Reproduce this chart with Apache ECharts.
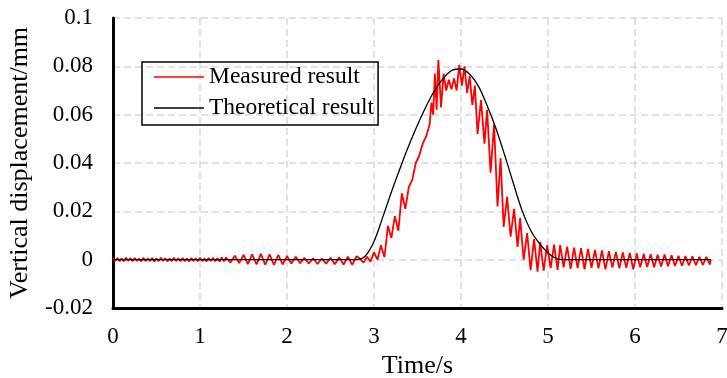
<!DOCTYPE html>
<html>

<head>
    <meta charset="utf-8" />
    <title>Vertical displacement</title>
    <script src="https://cdn.jsdelivr.net/npm/echarts@6/dist/echarts.min.js"></script>
</head>

<body style="margin:0">
    <style>
        #main {
            width: 727px;
            height: 378px;
        }
    </style>
    <div id="main"></div>
    <script type="text/javascript">
        // measured signal, [time s, displacement mm]
        var measuredStill = [
            [0, 0.0006], [0.025, -0.0005], [0.05, 0.0007], [0.075, -0.0006], [0.1, 0.0005], [0.125, -0.0007],
            [0.15, 0.0008], [0.175, -0.0004], [0.2, 0.0006], [0.225, -0.0006], [0.25, 0.0007], [0.275, -0.0005],
            [0.3, 0.0004], [0.325, -0.0007], [0.35, 0.0008], [0.375, -0.0006], [0.4, 0.0006], [0.425, -0.0005],
            [0.45, 0.0007], [0.475, -0.0008], [0.5, 0.0005], [0.525, -0.0006], [0.55, 0.0008], [0.575, -0.0005],
            [0.6, 0.0006], [0.625, -0.0007], [0.65, 0.0005], [0.675, -0.0006], [0.7, 0.0008], [0.725, -0.0005],
            [0.75, 0.0006], [0.775, -0.0007], [0.8, 0.0007], [0.825, -0.0006], [0.85, 0.0005], [0.875, -0.0008],
            [0.9, 0.0007], [0.925, -0.0005], [0.95, 0.0006], [0.975, -0.0007], [1.0, 0.0008], [1.025, -0.0006],
            [1.05, 0.0005], [1.075, -0.0007], [1.1, 0.0007], [1.125, -0.0006], [1.15, 0.0008], [1.175, -0.0007],
            [1.2, 0.0006], [1.225, -0.0008], [1.25, 0.0009], [1.275, -0.0007]
        ];
        var measuredFlat = [
            [1.3, 0.0009], [1.35, -0.0012], [1.4, 0.0016], [1.45, -0.0014],
            [1.5, 0.0020], [1.55, -0.0018], [1.6, 0.0022], [1.65, -0.0020], [1.7, 0.0024], [1.75, -0.0021],
            [1.8, 0.0022], [1.85, -0.0022], [1.9, 0.0020], [1.95, -0.0020], [2.0, 0.0015], [2.05, -0.0016],
            [2.1, 0.0012], [2.15, -0.0015], [2.2, 0.0008], [2.25, -0.0016], [2.3, 0.0006], [2.35, -0.0018],
            [2.4, 0.0005], [2.45, -0.0017], [2.5, 0.0008], [2.55, -0.0019], [2.6, 0.0010], [2.65, -0.0020],
            [2.7, 0.0012], [2.75, -0.0021], [2.8, 0.0014]
        ];
        var measuredRise = [
            [2.84, 0.0003], [2.88, -0.0012], [2.92, 0.0012], [2.96, -0.0008], [3.00, 0.0030], [3.04, 0.0000],
            [3.08, 0.0060], [3.12, 0.0010], [3.16, 0.0140], [3.20, 0.0090], [3.24, 0.0180], [3.28, 0.0120],
            [3.32, 0.0275], [3.36, 0.0210], [3.40, 0.0300], [3.44, 0.0330], [3.48, 0.0400], [3.52, 0.0430],
            [3.56, 0.0480], [3.60, 0.0510], [3.64, 0.0560], [3.66, 0.0650], [3.68, 0.0600], [3.70, 0.0770],
            [3.72, 0.0620], [3.74, 0.0826], [3.77, 0.0630], [3.80, 0.0770], [3.83, 0.0700], [3.86, 0.0745],
            [3.89, 0.0705], [3.92, 0.0750], [3.95, 0.0700], [3.98, 0.0805], [4.01, 0.0720], [4.04, 0.0800],
            [4.07, 0.0690], [4.10, 0.0760], [4.13, 0.0640], [4.16, 0.0720]
        ];
        var measuredFall = [
            [4.19, 0.0520], [4.23, 0.0660], [4.27, 0.0480], [4.30, 0.0620], [4.34, 0.0360], [4.38, 0.0560],
            [4.42, 0.0220], [4.455, 0.0420], [4.49, 0.0136], [4.53, 0.0260], [4.57, 0.0095], [4.61, 0.0210],
            [4.65, 0.0053], [4.68, 0.0172], [4.72, 0.0000], [4.76, 0.0110], [4.80, -0.0043], [4.84, 0.0085],
            [4.88, -0.0050], [4.91, 0.0074], [4.95, -0.0045], [4.99, 0.0060], [5.03, -0.0035], [5.07, 0.0062],
            [5.11, -0.0042], [5.14, 0.0060], [5.18, -0.0032], [5.22, 0.0054]
        ];
        var measuredTail = [
            [5.26, -0.0038], [5.30, 0.0050], [5.34, -0.0035], [5.38, 0.0048], [5.42, -0.0040], [5.46, 0.0045],
            [5.50, -0.0034], [5.54, 0.0040], [5.58, -0.0036], [5.62, 0.0038], [5.66, -0.0040], [5.70, 0.0035],
            [5.74, -0.0033], [5.78, 0.0032], [5.82, -0.0036], [5.86, 0.0030], [5.90, -0.0034], [5.94, 0.0028],
            [5.98, -0.0040], [6.02, 0.0026], [6.06, -0.0032], [6.10, 0.0024], [6.14, -0.0030], [6.18, 0.0022],
            [6.22, -0.0031], [6.26, 0.0020], [6.30, -0.0028], [6.34, 0.0021], [6.38, -0.0027], [6.42, 0.0018],
            [6.46, -0.0026], [6.50, 0.0016], [6.54, -0.0025], [6.58, 0.0015], [6.62, -0.0024], [6.66, 0.0014],
            [6.70, -0.0023], [6.74, 0.0012], [6.78, -0.0022], [6.82, 0.0012], [6.86, -0.0020], [6.87, 0.0000]
        ];

        // theoretical curve
        var theoryTime = [0, 2.6, 2.7, 2.8, 2.9, 3.0, 3.1, 3.2, 3.3, 3.4, 3.5, 3.6, 3.7, 3.8, 3.9, 4.0,
            4.1, 4.2, 4.3, 4.4, 4.5, 4.6, 4.7, 4.8, 4.9, 5.0, 5.1, 5.2, 5.3, 6.87];
        var theoryValue = [0, 0, 0, 0, 0.0015, 0.0075, 0.0175, 0.028, 0.0378, 0.0472, 0.0557, 0.0635, 0.0702, 0.0752,
            0.0784, 0.0789, 0.0767, 0.0718, 0.0638, 0.0545, 0.0435, 0.0318, 0.0205, 0.0122, 0.0068, 0.0028, 0.0004, 0, 0, 0];

        var measured = measuredStill.concat(measuredFlat, measuredRise, measuredFall, measuredTail);
        var theory = theoryTime.map(function (t, i) {
            return [t, theoryValue[i]];
        });

        var font = "'Liberation Serif', 'Times New Roman', serif";
        var gridLine = {
            show: true,
            lineStyle: { color: '#d9d9d9', width: 1.5, type: [7, 4] }
        };

        var myChart = echarts.init(document.getElementById('main'));
        var option = {
            animation: false,
            textStyle: { fontFamily: font },
            grid: { left: 113, right: 5, top: 18, bottom: 70, outerBoundsMode: 'none', containLabel: false },
            legend: {
                orient: 'vertical',
                left: 142,
                top: 62,
                padding: [3, 4, 5, 12],
                itemGap: 7,
                itemWidth: 50,
                itemHeight: 1.5,
                icon: 'rect',
                borderColor: '#000',
                borderWidth: 1.5,
                textStyle: { fontFamily: font, fontSize: 23.5, color: '#000', lineHeight: 24 },
                data: ['Measured result', 'Theoretical result']
            },
            xAxis: {
                type: 'value',
                min: 0,
                max: 7,
                interval: 1,
                name: 'Time/s',
                nameLocation: 'middle',
                nameGap: 43,
                nameTextStyle: { fontFamily: font, fontSize: 26, color: '#000' },
                axisLine: { onZero: false, lineStyle: { color: '#000', width: 3 } },
                axisTick: { show: false },
                axisLabel: { margin: 17, fontFamily: font, fontSize: 23, color: '#000' },
                splitLine: gridLine
            },
            yAxis: {
                type: 'value',
                min: -0.02,
                max: 0.1,
                interval: 0.02,
                name: 'Vertical displacement/mm',
                nameLocation: 'middle',
                nameGap: 80,
                nameTextStyle: { fontFamily: font, fontSize: 26, color: '#000' },
                axisLine: { show: true, lineStyle: { color: '#000', width: 3 } },
                axisTick: { show: false },
                axisLabel: { margin: 20, fontFamily: font, fontSize: 23, color: '#000' },
                splitLine: gridLine
            },
            series: [
                {
                    name: 'Measured result',
                    type: 'line',
                    symbol: 'none',
                    data: measured,
                    lineStyle: { color: '#ff0000', width: 1.8 },
                    itemStyle: { color: '#ff0000' },
                    z: 2
                },
                {
                    name: 'Theoretical result',
                    type: 'line',
                    symbol: 'none',
                    smooth: 0.3,
                    data: theory,
                    lineStyle: { color: '#000', width: 1.3 },
                    itemStyle: { color: '#000' },
                    z: 3
                }
            ]
        };
        myChart.setOption(option);
    </script>
</body>
</html>
